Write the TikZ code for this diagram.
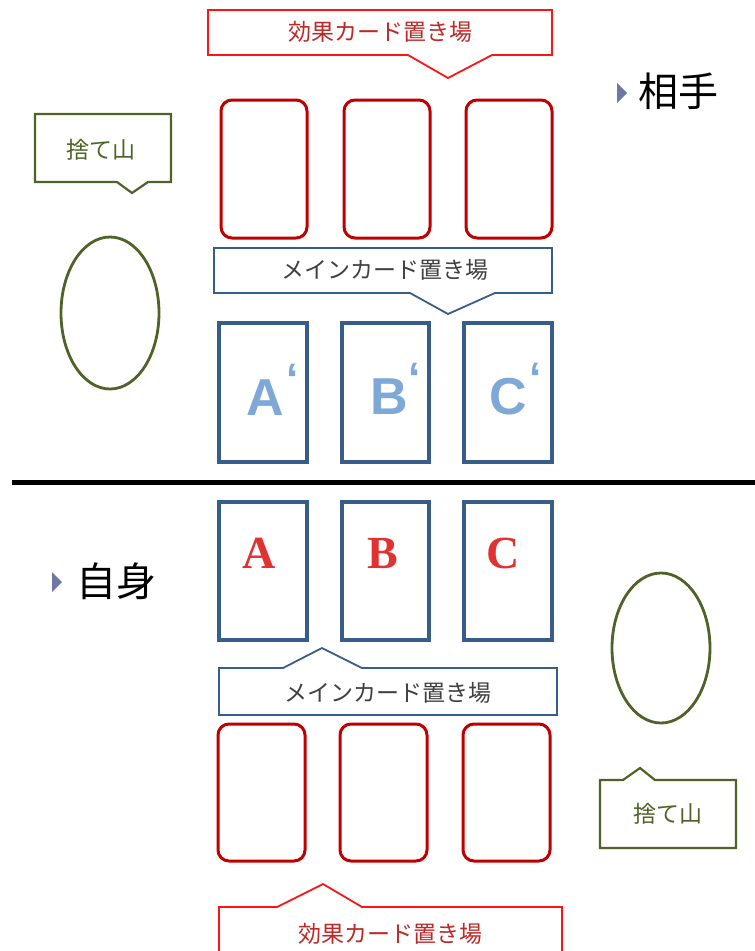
\documentclass[tikz,border=0pt]{standalone}
\usepackage{fontspec}
\setmainfont{Liberation Serif}
\newfontfamily\jp{Noto Sans CJK JP}
\newfontfamily\lsans{Liberation Sans}
\definecolor{cardred}{RGB}{192,0,0}
\definecolor{callred}{RGB}{255,20,20}
\definecolor{txtred}{RGB}{190,40,40}
\definecolor{cardblue}{RGB}{56,93,138}
\definecolor{olive}{RGB}{79,98,40}
\definecolor{bullet}{RGB}{110,120,165}
\definecolor{lblue}{RGB}{125,168,215}
\definecolor{txtgray}{RGB}{64,64,64}
\tikzset{
  redcard/.style={draw=cardred, line width=3pt, rounded corners=11pt},
  bluecard/.style={draw=cardblue, line width=3.4pt},
  redcall/.style={draw=callred, line width=1.8pt, fill=white},
  bluecall/.style={draw=cardblue, line width=1.8pt, fill=white},
  olivecall/.style={draw=olive, line width=2.2pt, fill=white},
  pile/.style={draw=olive, line width=2.8pt},
  calltext/.style={font=\jp\fontsize{23}{25}\selectfont, inner sep=0pt},
  bigtext/.style={font=\jp\fontsize{40}{42}\selectfont, inner sep=0pt, anchor=west},
  bul/.style={fill=bullet},
  oppletter/.style={font=\lsans\bfseries\fontsize{52}{52}\selectfont, text=lblue, inner sep=0pt},
  quote/.style={font=\lsans\bfseries\fontsize{44}{44}\selectfont, text=lblue, inner sep=0pt},
  myletter/.style={font=\bfseries\fontsize{46}{46}\selectfont, text={rgb,255:red,225;green,50;blue,50}, inner sep=0pt},
}
\begin{document}
\begin{tikzpicture}[x=1pt,y=-1pt]
\useasboundingbox (0,0) rectangle (755,951);
\clip (0,0) rectangle (755,951);
% top effect callout
\draw[redcall] (208,10) -- (552,10) -- (552,55) -- (492,55) -- (448,78) -- (408,55) -- (208,55) -- cycle;
\node[calltext, text=txtred] (effT) at (380,32) {効果カード置き場};
% top red cards
\draw[redcard] (221,100) rectangle (307,238);
\draw[redcard] (344,100) rectangle (430,238);
\draw[redcard] (466,100) rectangle (552,238);
% top main callout
\draw[bluecall] (214,248) -- (552,248) -- (552,293) -- (495,293) -- (448,314) -- (410,293) -- (214,293) -- cycle;
\node[calltext, text=txtgray] (mainT) at (385,270) {メインカード置き場};
% top blue cards
\draw[bluecard] (219,323) rectangle (307,462);
\draw[bluecard] (342,323) rectangle (429,462);
\draw[bluecard] (464,323) rectangle (552,462);
\node[oppletter] (Ap) at (265,398) {A};
\node[quote] (Apq) at (293,379) {‘};
\node[oppletter] (Bp) at (389,397) {B};
\node[quote] (Bpq) at (415,378) {‘};
\node[oppletter] (Cp) at (508,397) {C};
\node[quote] (Cpq) at (536,378) {‘};
% left discard
\draw[olivecall] (35,114) -- (171,114) -- (171,182) -- (148,182) -- (132,193) -- (117,182) -- (35,182) -- cycle;
\node[calltext, text=olive] (discT) at (101,150) {捨て山};
\draw[pile] (110,313) ellipse [x radius=49, y radius=76];
% opponent label
\fill[bul] (617,83) -- (627,93) -- (617,103) -- cycle;
\node[bigtext] (opp) at (638,91) {相手};
% divider
\draw[line width=5pt] (12,482) -- (755,482);
% bottom blue cards
\draw[bluecard] (219,502) rectangle (307,640);
\draw[bluecard] (342,502) rectangle (429,640);
\draw[bluecard] (464,502) rectangle (552,640);
\node[myletter] (A) at (259,553) {A};
\node[myletter] (B) at (383,553) {B};
\node[myletter] (C) at (503,553) {C};
% self label
\fill[bul] (52,572) -- (62,582) -- (52,592) -- cycle;
\node[bigtext] (self) at (76,581) {自身};
% bottom main callout
\draw[bluecall] (219,668) -- (283,668) -- (322,648) -- (362,668) -- (557,668) -- (557,715) -- (219,715) -- cycle;
\node[calltext, text=txtgray] (mainB) at (388,693) {メインカード置き場};
% bottom red cards
\draw[redcard] (218,724) rectangle (305,861);
\draw[redcard] (340,724) rectangle (427,861);
\draw[redcard] (463,724) rectangle (550,861);
% right pile
\draw[pile] (661,648) ellipse [x radius=49, y radius=75];
\draw[olivecall] (600,780) -- (623,780) -- (640,768) -- (655,780) -- (736,780) -- (736,848) -- (600,848) -- cycle;
\node[calltext, text=olive] (discB) at (668,814) {捨て山};
% bottom effect callout
\draw[redcall] (219,907) -- (277,907) -- (323,884) -- (362,907) -- (562,907) -- (562,980) -- (219,980) -- cycle;
\node[calltext, text=txtred] (effB) at (390,934) {効果カード置き場};
\end{tikzpicture}
\end{document}
